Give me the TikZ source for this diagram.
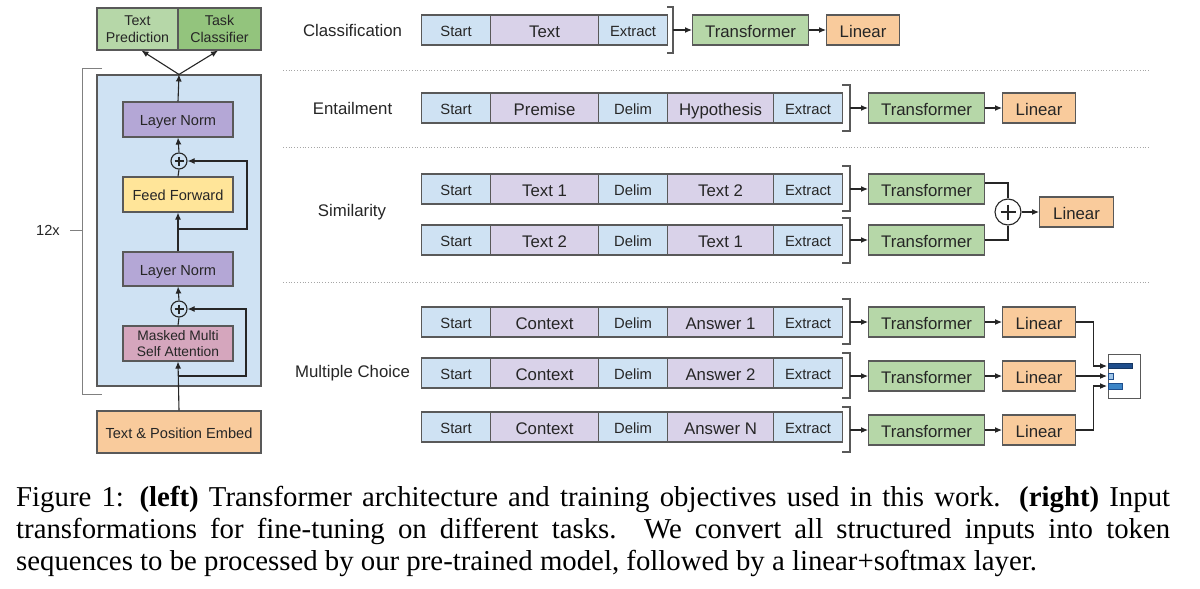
\documentclass[tikz,border=0pt]{standalone}
\usepackage{fontspec}
\setmainfont{Liberation Serif}
\newfontfamily\arialf{Liberation Sans}
\usetikzlibrary{arrows.meta}
\definecolor{bluef}{HTML}{CFE2F3}
\definecolor{purf}{HTML}{D9D2E9}
\definecolor{greenf}{HTML}{B6D7A8}
\definecolor{greend}{HTML}{93C47D}
\definecolor{orangef}{HTML}{F9CB9C}
\definecolor{lnf}{HTML}{B4A7D6}
\definecolor{fff}{HTML}{FFE599}
\definecolor{attf}{HTML}{D5A6BD}
\definecolor{edge}{HTML}{595959}
\definecolor{ink}{HTML}{262626}
\definecolor{barA}{HTML}{1F4E8C}
\definecolor{barB}{HTML}{9FC5E8}
\definecolor{barC}{HTML}{3D85C6}
\newcommand{\fsS}{\arialf\fontsize{14.8}{16}\selectfont}
\newcommand{\fsM}{\arialf\fontsize{16.8}{18}\selectfont}
\newcommand{\fsL}{\arialf\fontsize{14.6}{17}\selectfont}
\begin{document}
\begin{tikzpicture}[x=1pt,y=-1pt,
  box/.style={draw=edge, line width=1.1pt, inner sep=0pt, minimum height=30pt, align=center, text=ink, text depth=0pt},
  seqs/.style={box, fill=bluef, minimum width=69pt, anchor=west, font=\fsS, text height=12.6pt},
  seqc/.style={box, fill=purf, anchor=west, font=\fsM, text height=14.5pt},
  trans/.style={box, fill=greenf, minimum width=116pt, anchor=west, font=\fsM, text height=14.5pt},
  lin/.style={box, fill=orangef, minimum width=73pt, anchor=west, font=\fsM, text height=14.5pt},
  lbox/.style={draw=edge, line width=1.1pt, inner sep=0pt, minimum width=110pt, minimum height=35pt, align=center, text=ink, font=\fsL},
  oneline/.style={text height=12pt, text depth=0pt},
  arr/.style={-{Latex[length=7pt,width=6pt]}, line width=1.1pt, draw=ink},
  conn/.style={line width=1.1pt, draw=ink},
  brk/.style={line width=1.1pt, draw=edge},
  dots/.style={draw=gray!70, dotted, line width=0.8pt},
  rowlbl/.style={font=\fsM, text=ink},
  plusc/.style={circle, draw=ink, line width=1.1pt, inner sep=0pt}
]
\useasboundingbox (0,0) rectangle (1200,589);
\fill[white] (0,0) rectangle (1200,589);

% ---------- left: transformer ----------
\draw[line width=1pt, draw=gray] (102,68) -- (82,68) -- (82,394) -- (102,394);
\draw[line width=1pt, draw=gray] (70,230) -- (82,230);
\node[font=\fsL, text=ink] (twelve) at (48,230) {12x};
\node[draw=edge, line width=1.1pt, fill=bluef, minimum width=164pt, minimum height=311pt, inner sep=0pt] (blk) at (179,230.5) {};
\node[lbox, fill=greenf, minimum width=81pt, minimum height=42pt, font=\arialf\fontsize{14.2}{16.5}\selectfont] (tp) at (137.5,29) {Text\\Prediction};
\node[lbox, fill=greend, minimum width=83pt, minimum height=42pt, font=\arialf\fontsize{14.2}{16.5}\selectfont] (tc) at (219.5,29) {Task\\Classifier};
\node[lbox, oneline, fill=lnf] (ln1) at (178,119.5) {Layer Norm};
\node[plusc, fill=bluef, minimum size=16pt] (p1) at (179,161) {};
\node[lbox, oneline, fill=fff] (ff) at (178,194.5) {Feed Forward};
\node[lbox, oneline, fill=lnf, minimum height=34pt] (ln2) at (178,269) {Layer Norm};
\node[plusc, fill=bluef, minimum size=16pt] (p2) at (179,309) {};
\node[lbox, fill=attf, font=\arialf\fontsize{13.8}{16.5}\selectfont] (att) at (178,343.5) {Masked Multi\\Self Attention};
\node[lbox, oneline, fill=orangef, minimum width=164pt, minimum height=42pt] (emb) at (179,432) {Text \& Position Embed};
\foreach \p in {p1,p2}{
  \draw[conn] ([yshift=4.5pt]\p.center) -- ([yshift=-4.5pt]\p.center);
  \draw[conn] ([xshift=-4.5pt]\p.center) -- ([xshift=4.5pt]\p.center);
}
\coordinate (r1) at (179,229);
\coordinate (r2) at (179,376);
\draw[arr] (emb.north) -- (att.south);
\draw[conn] (att.north) -- (p2.south);
\draw[arr] (p2.north) -- (ln2.south);
\draw[arr] (ln2.north) -- (ff.south);
\draw[conn] (ff.north) -- (p1.south);
\draw[arr] (p1.north) -- (ln1.south);
\draw[arr] (ln1.north) -- (blk.north);
\draw[arr] (blk.north) -- ([xshift=4pt]tp.south);
\draw[arr] (blk.north) -- ([xshift=-1.5pt]tc.south);
\draw[arr] (r1) -- ++(68,0) |- (p1.east);
\draw[arr] (r2) -- ++(67,0) |- (p2.east);

% ---------- right: tasks ----------
\node[rowlbl] (lc) at (352.5,30) {Classification};
\node[rowlbl] (le) at (352.5,108) {Entailment};
\node[rowlbl] (ls) at (352,212) {Similarity};
\node[rowlbl] (lm) at (352.5,373) {Multiple Choice};

\draw[dots] (283,70) -- (1150,70);
\draw[dots] (283,147) -- (1150,147);
\draw[dots] (283,282) -- (1150,282);

% classification
\node[seqs] (c1) at (421,30) {Start};
\node[seqc, minimum width=108pt] (c2) at (490,30) {Text};
\node[seqs] (c3) at (598,30) {Extract};
\draw[brk] (667,7) -| (673,30) |- (667,53);
\coordinate (cb) at (673,30);
\node[trans] (ct) at (692,30) {Transformer};
\node[lin] (cl) at (826,30) {Linear};
\draw[arr] (cb) -- (ct);
\draw[arr] (ct) -- (cl);

% entailment
\node[seqs] (e1) at (421,108) {Start};
\node[seqc, minimum width=108pt] (e2) at (490,108) {Premise};
\node[seqs] (e3) at (598,108) {Delim};
\node[seqc, minimum width=106pt] (e4) at (667,108) {Hypothesis};
\node[seqs] (e5) at (773,108) {Extract};
\draw[brk] (842,85) -| (850,108) |- (842,131);
\coordinate (eb) at (850,108);
\node[trans] (et) at (868,108) {Transformer};
\node[lin] (el) at (1002,108) {Linear};
\draw[arr] (eb) -- (et);
\draw[arr] (et) -- (el);

% similarity
\node[seqs] (sa1) at (421,189) {Start};
\node[seqc, minimum width=108pt] (sa2) at (490,189) {Text 1};
\node[seqs] (sa3) at (598,189) {Delim};
\node[seqc, minimum width=106pt] (sa4) at (667,189) {Text 2};
\node[seqs] (sa5) at (773,189) {Extract};
\node[seqs] (sb1) at (421,240) {Start};
\node[seqc, minimum width=108pt] (sb2) at (490,240) {Text 2};
\node[seqs] (sb3) at (598,240) {Delim};
\node[seqc, minimum width=106pt] (sb4) at (667,240) {Text 1};
\node[seqs] (sb5) at (773,240) {Extract};
\draw[brk] (842,166) -| (850,189) |- (842,211);
\draw[brk] (842,218) -| (850,240) |- (842,263);
\coordinate (sab) at (850,189);
\coordinate (sbb) at (850,240);
\node[trans] (st1) at (868,189) {Transformer};
\node[trans] (st2) at (868,240) {Transformer};
\node[plusc, fill=white, minimum size=26pt] (sp) at (1008,212) {};
\draw[conn] ([yshift=7.5pt]sp.center) -- ([yshift=-7.5pt]sp.center);
\draw[conn] ([xshift=-7.5pt]sp.center) -- ([xshift=7.5pt]sp.center);
\node[lin, minimum width=74pt] (sl) at (1039,212) {Linear};
\draw[arr] (sab) -- (st1);
\draw[arr] (sbb) -- (st2);
\draw[conn] ([yshift=6pt]st1.east) -| (sp.north);
\draw[conn] (st2.east) -| (sp.south);
\draw[arr] (sp.east) -- (sl.west);

% multiple choice
\node[seqs] (ma1) at (421,322) {Start};
\node[seqc, minimum width=108pt] (ma2) at (490,322) {Context};
\node[seqs] (ma3) at (598,322) {Delim};
\node[seqc, minimum width=106pt] (ma4) at (667,322) {Answer 1};
\node[seqs] (ma5) at (773,322) {Extract};
\node[seqs] (mb1) at (421,373) {Start};
\node[seqc, minimum width=108pt] (mb2) at (490,373) {Context};
\node[seqs] (mb3) at (598,373) {Delim};
\node[seqc, minimum width=106pt] (mb4) at (667,373) {Answer 2};
\node[seqs] (mb5) at (773,373) {Extract};
\node[seqs] (mc1) at (421,427) {Start};
\node[seqc, minimum width=108pt] (mc2) at (490,427) {Context};
\node[seqs] (mc3) at (598,427) {Delim};
\node[seqc, minimum width=106pt] (mc4) at (667,427) {Answer N};
\node[seqs] (mc5) at (773,427) {Extract};
\draw[brk] (842,299) -| (850,322) |- (842,344);
\draw[brk] (842,353) -| (850,376) |- (842,398);
\draw[brk] (842,407) -| (850,430) |- (842,452);
\coordinate (mab) at (850,322);
\coordinate (mbb) at (850,376);
\coordinate (mcb) at (850,430);
\node[trans] (mt1) at (868,322) {Transformer};
\node[trans] (mt2) at (868,376) {Transformer};
\node[trans] (mt3) at (868,430) {Transformer};
\node[lin] (ml1) at (1002,322) {Linear};
\node[lin] (ml2) at (1002,376) {Linear};
\node[lin] (ml3) at (1002,430) {Linear};
\draw[arr] (mab) -- (mt1);
\draw[arr] (mbb) -- (mt2);
\draw[arr] (mcb) -- (mt3);
\draw[arr] (mt1) -- (ml1);
\draw[arr] (mt2) -- (ml2);
\draw[arr] (mt3) -- (ml3);
\node[draw=edge, line width=0.9pt, fill=white, minimum width=32pt, minimum height=44pt, inner sep=0pt] (sm) at (1124,376) {};
\draw[fill=barA, draw=barA!70!black, line width=0.6pt] (1108,363) rectangle (1132,368.5);
\draw[fill=barB, draw=barA, line width=0.6pt] (1108,373.5) rectangle (1113,379);
\draw[fill=barC, draw=barA, line width=0.6pt] (1108,383.5) rectangle (1122,389);
\coordinate (sm1) at (1107,366);
\coordinate (sm2) at (1107,376);
\coordinate (sm3) at (1107,386);
\draw[arr] (ml1.east) -- ++(17,0) |- (sm1);
\draw[arr] (ml2.east) -- (sm2);
\draw[arr] (ml3.east) -- ++(17,0) |- (sm3);

% ---------- caption ----------
\node[anchor=base west, inner sep=0pt, text width=1154pt, align=justify, text=black,
      font=\fontsize{28.8}{32}\selectfont] (cap) at (16,506)
{Figure 1: \textbf{(left)} Transformer architecture and training objectives used in this work. \textbf{(right)} Input\linebreak
transformations for fine-tuning on different tasks. We convert all structured inputs into token\linebreak
sequences to be processed by our pre-trained model, followed by a linear+softmax layer.};
\end{tikzpicture}
\end{document}
